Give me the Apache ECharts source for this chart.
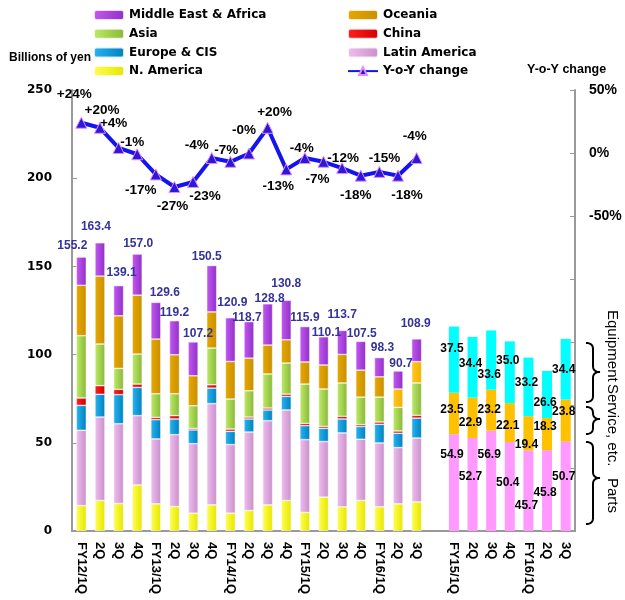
<!DOCTYPE html>
<html>
<head>
<meta charset="utf-8">
<script src="https://cdn.jsdelivr.net/npm/echarts@6/dist/echarts.min.js"></script>
<style>
  html, body { margin: 0; padding: 0; background: #fff; }
  #chart { width: 625px; height: 600px; }
</style>
</head>
<body>
<div id="chart"></div>
<script>
// categories: 19 quarters by region, one empty slot, 7 quarters by business
var categories = ['FY12/1Q','2Q','3Q','4Q','FY13/1Q','2Q','3Q','4Q','FY14/1Q','2Q','3Q','4Q',
  'FY15/1Q','2Q','3Q','4Q','FY16/1Q','2Q','3Q','',
  'FY15/1Q','2Q','3Q','4Q','FY16/1Q','2Q','3Q'];

// billions of yen, by region
var nAmerica     = [14.4,17.3,15.6,26.1,15.4,13.9,10.1,14.8,10.1,11.6,14.8,17.3,10.5,19.2,13.7,17.3,13.7,15.4,16.5];
var latinAmerica = [42.7,47.3,45.2,39.3,36.8,40.7,39.4,57.4,38.9,44.5,47.7,51.3,41.3,31.5,41.9,34.7,36.2,31.9,36.2];
var europeCis    = [14.1,12.9,16.5,16.0,10.9,8.9,7.8,8.8,7.5,7.4,6.1,7.7,7.9,7.5,7.9,7.2,10.6,8.1,11.3];
var china        = [4.2,4.9,3.0,1.9,1.3,1.9,0.9,1.9,1.3,1.1,1.1,1.3,1.3,1.1,1.5,1.1,1.3,1.3,1.6];
var asia         = [35.3,23.6,11.9,17.0,13.4,12.4,12.8,20.8,17.0,14.9,19.3,17.6,22.3,21.2,18.9,15.6,14.1,13.4,18.3];
var oceania      = [28.6,38.5,29.8,33.4,31.0,22.1,17.0,20.5,21.3,18.5,16.4,13.2,12.5,13.6,16.2,15.3,11.5,10.4,12.1];
var mea          = [16.0,18.9,17.1,23.3,20.8,19.3,19.2,26.3,24.8,20.7,23.4,22.4,20.1,16.0,13.6,16.3,10.9,10.2,12.9];
var totals       = [155.2,163.4,139.1,157.0,129.6,119.2,107.2,150.5,120.9,118.7,128.8,130.8,115.9,110.1,113.7,107.5,98.3,90.7,108.9];

// y-o-y change, %
var yoy       = [24,20,4,-1,-17,-27,-23,-4,-7,-0.4,20,-13,-4,-7,-12,-18,-15,-18,-4];
var yoyLabels = ['+24%','+20%','+4%','-1%','-17%','-27%','-23%','-4%','-7%','-0%','+20%','-13%','-4%','-7%','-12%','-18%','-15%','-18%','-4%'];

// billions of yen, by business (FY15/1Q - FY16/3Q)
var parts     = [54.9,52.7,56.9,50.4,45.7,45.8,50.7];
var service   = [23.5,22.9,23.2,22.1,19.4,18.3,23.8];
var equipment = [37.5,34.4,33.6,35.0,33.2,26.6,34.4];

// label nudges (px) so the crowded labels sit as in the original slide
var totalNudge = [[-9,-5],[-4,-10],[3,-7],[1,-4],[9,-4],[0,-2],[5,-2],[-5,-3],[2,-9],[-2,2],
  [2,1],[0,-11],[0,-3],[3,2],[0,-10],[1,-2],[3,-4],[3,-1],[-1,-9]];
var yoyNudge = [[-7,-28],[2,-18],[-5,-25],[-5,-12],[-15,16],[-2,19],[12,14],[-15,-13],[-4,-12],[-5,-23],
  [7,-16],[-8,17],[-3,-10],[-6,17],[1,-10],[-5,20],[5,-14],[9,20],[-2,-22]];
var equipNudge = [-11,-4,15,-12,-4,8,0];
var serviceNudge = [-4,5,0,3,11,-7,-9];
var partsNudge = [-28,-8,-26,-4,15,2,-10];

var FONT = 'Liberation Sans';

function grad(a, b) {
  return new echarts.graphic.LinearGradient(0, 0, 1, 0, [
    { offset: 0, color: a }, { offset: 1, color: b }
  ]);
}
function left(arr) { return arr.concat(new Array(8).fill(null)); }
function right(arr) { return new Array(20).fill(null).concat(arr); }

function regionBar(name, data, color) {
  return {
    name: name, type: 'bar', stack: 'region', barWidth: 10, barGap: '-100%',
    data: data,
    itemStyle: { color: color, borderColor: 'rgba(255,255,255,0.8)', borderWidth: 0.6 }
  };
}
function bizBar(name, data, color, nudge) {
  return {
    name: name, type: 'bar', stack: 'biz', barWidth: 10, barGap: '-100%',
    data: right(data.map(function (v, i) {
      return { value: v, label: { offset: [-2, nudge[i]] } };
    })),
    itemStyle: { color: color },
    label: {
      show: true, position: 'inside', color: '#000',
      fontFamily: FONT, fontWeight: 'bold', fontSize: 12,
      formatter: function (p) { return p.value.toFixed(1); }
    },
    z: 3
  };
}

// curly brace as a polyline: y0..y1 with the tip at ym, pointing right
function brace(y0, ym, y1) {
  var x0 = 586, xm = 593, xt = 600, r = 6;
  var pts = [];
  function quad(p0, p1, p2) {
    for (var t = 0; t <= 1.001; t += 0.125) {
      var a = (1 - t) * (1 - t), b = 2 * (1 - t) * t, c = t * t;
      pts.push([a * p0[0] + b * p1[0] + c * p2[0], a * p0[1] + b * p1[1] + c * p2[1]]);
    }
  }
  quad([x0, y0], [xm, y0], [xm, y0 + r]);
  quad([xm, ym - r], [xm, ym], [xt, ym]);
  quad([xt, ym], [xm, ym], [xm, ym + r]);
  quad([xm, y1 - r], [xm, y1], [x0, y1]);
  return { type: 'polyline', shape: { points: pts }, style: { fill: null, stroke: '#000', lineWidth: 2 } };
}

var yoyData = yoy.map(function (v, i) {
  return { value: v, label: { offset: yoyNudge[i], formatter: yoyLabels[i] } };
});

// the last two quarters use a brighter orange
var orangeData = left(oceania).map(function (v, i) {
  return i >= 17 && v != null ? { value: v, itemStyle: { color: grad('#FFC820', '#F0B000') } } : v;
});

var meaSeries = regionBar('Middle East & Africa', left(mea).map(function (v, i) {
  return v == null ? v : { value: v, label: { offset: totalNudge[i] } };
}), grad('#C458F2', '#9030C8'));
meaSeries.label = {
  show: true, position: 'top', distance: 0, color: '#333399',
  fontFamily: FONT, fontWeight: 'bold', fontSize: 12,
  formatter: function (p) { return totals[p.dataIndex].toFixed(1); }
};

var chart = echarts.init(document.getElementById('chart'));
var legendText = { fontFamily: 'DejaVu Sans', fontWeight: 'bold', fontSize: 12, color: '#000', lineHeight: 14 };

function vtext(txt, y) {
  return { type: 'text', x: 612, y: y, rotation: -Math.PI / 2,
    style: { text: txt, fill: '#000', font: '15px Liberation Sans', textAlign: 'left', textVerticalAlign: 'middle' } };
}

var option = {
  animation: false,
  grid: { left: 72, right: 50, top: 90, bottom: 69 },
  legend: [
    {
      orient: 'vertical', left: 88, top: 3, itemWidth: 30, itemHeight: 10, itemGap: 4.7,
      textStyle: legendText,
      data: ['Middle East & Africa', 'Asia', 'Europe & CIS', 'N. America']
    },
    {
      orient: 'vertical', left: 342, top: 3, itemWidth: 30, itemHeight: 10, itemGap: 4.7,
      textStyle: legendText,
      data: ['Oceania', 'China', 'Latin America', 'Y-o-Y change']
    }
  ],
  xAxis: {
    type: 'category', data: categories,
    axisLine: { lineStyle: { color: '#999', width: 2 } },
    axisTick: { inside: true, length: 4, lineStyle: { color: '#999' } },
    axisLabel: {
      interval: 0, rotate: -90, margin: 11, color: '#000',
      fontFamily: FONT, fontWeight: 'bold', fontSize: 13
    }
  },
  yAxis: [
    {
      type: 'value', min: 0, max: 250, interval: 50,
      axisLine: { show: true, lineStyle: { color: '#999', width: 2 } },
      axisTick: { show: true, inside: true, length: 5, lineStyle: { color: '#999' } },
      splitLine: { show: false },
      axisLabel: { margin: 20, color: '#000', fontFamily: 'DejaVu Sans', fontWeight: 'bold', fontSize: 12 }
    },
    {
      type: 'value', min: -300, max: 50, interval: 50, position: 'right',
      axisLine: { show: true, lineStyle: { color: '#999', width: 2 } },
      axisTick: { show: true, inside: true, length: 5, lineStyle: { color: '#999' } },
      splitLine: { show: false },
      axisLabel: {
        margin: 14, color: '#000', fontFamily: FONT, fontWeight: 'bold', fontSize: 14,
        formatter: function (v) { return v >= -50 ? v + '%' : ''; }
      }
    }
  ],
  series: [
    regionBar('N. America', left(nAmerica), grad('#FFFF50', '#E6E600')),
    regionBar('Latin America', left(latinAmerica), grad('#F0BEF0', '#C890C8')),
    regionBar('Europe & CIS', left(europeCis), grad('#28B4F0', '#0080C0')),
    regionBar('China', left(china), grad('#FF2020', '#D00000')),
    regionBar('Asia', left(asia), grad('#BEEA68', '#88B838')),
    regionBar('Oceania', orangeData, grad('#E8A800', '#C89000')),
    meaSeries,
    bizBar('Parts', parts, '#FF99FF', partsNudge),
    bizBar('Service, etc.', service, '#FFC000', serviceNudge),
    bizBar('Equipment', equipment, '#00FFFF', equipNudge),
    {
      name: 'Y-o-Y change', type: 'line', yAxisIndex: 1, data: yoyData,
      symbol: 'triangle', symbolSize: 11,
      lineStyle: { color: '#1414EE', width: 4 },
      itemStyle: { color: '#2A1AD8', borderColor: '#E58CFF', borderWidth: 1 },
      label: { show: true, position: 'inside', color: '#000', fontFamily: FONT, fontWeight: 'bold', fontSize: 13.5 },
      z: 5
    }
  ],
  graphic: [
    { type: 'text', x: 9, y: 58, style: { text: 'Billions of yen', fill: '#000', font: 'bold 12px Liberation Sans', textVerticalAlign: 'middle' } },
    { type: 'text', x: 527, y: 70, style: { text: 'Y-o-Y change', fill: '#000', font: 'bold 12.5px Liberation Sans', textVerticalAlign: 'middle' } },
    vtext('Equipment', 310),
    vtext('Service, etc.', 384),
    vtext('Parts', 478),
    brace(343, 372, 402),
    brace(407, 419, 434),
    brace(442, 478, 524)
  ]
};

chart.setOption(option);
</script>
</body>
</html>
